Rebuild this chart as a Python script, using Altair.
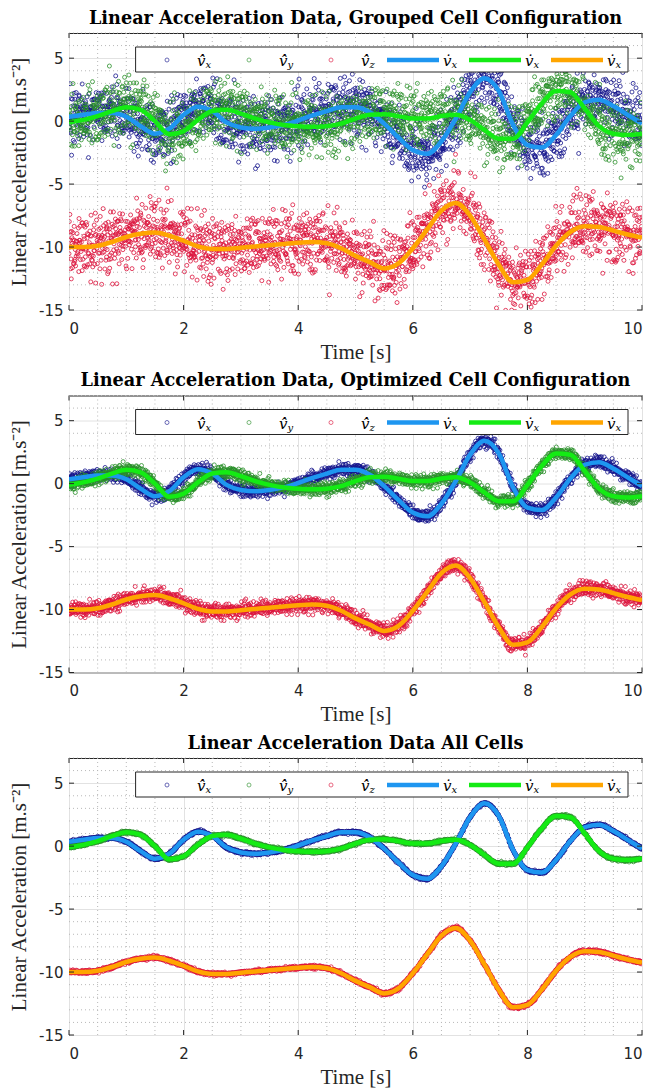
import numpy as np
import pandas as pd
import altair as alt

# ---------------- data ----------------
T_KNOTS = [i * 0.25 for i in range(41)]
VX = [0.35, 0.5, 0.65, 0.65, 0.35, -0.4, -1.0, -0.6, 0.5, 1.15,
      0.8, -0.1, -0.5, -0.6, -0.5, -0.3, 0.05, 0.45, 0.8, 1.1,
      1.1, 0.7, -0.2, -1.3, -2.3, -2.6, -1.6, 0.2, 2.3, 3.4,
      2.4, -0.3, -1.9, -2.1, -1.1, 0.4, 1.5, 1.7, 1.2, 0.5, -0.2]
VY = [-0.1, 0.1, 0.4, 0.8, 1.1, 0.9, 0.0, -1.05, -0.8, 0.1,
      0.8, 0.9, 0.6, 0.2, -0.1, -0.3, -0.4, -0.45, -0.4, -0.2,
      0.2, 0.5, 0.55, 0.4, 0.2, 0.2, 0.4, 0.5, 0.1, -0.7,
      -1.4, -1.4, -0.1, 1.4, 2.4, 2.3, 1.0, -0.4, -1.0, -1.1, -1.0]
VZ = [-10.0, -10.0, -9.9, -9.6, -9.2, -8.95, -8.85, -9.1, -9.5, -9.95,
      -10.15, -10.15, -10.05, -9.95, -9.85, -9.75, -9.65, -9.6, -9.7, -10.1,
      -10.7, -11.2, -11.7, -11.3, -10.1, -8.6, -7.1, -6.5, -7.5, -9.4,
      -11.4, -12.8, -12.6, -11.4, -9.9, -8.8, -8.35, -8.4, -8.7, -9.0, -9.25]

# hand-typed residual tables (unit spread) for the noisy measurements
NOISE_A = [0.31, -1.22, 0.85, -0.47, 1.63, -0.08, -0.92, 0.54, 2.11, -1.58,
           0.12, -0.66, 1.04, -0.29, 0.73, -2.05, 0.41, -0.15, 1.37, -0.83,
           0.02, 0.96, -1.41, 0.27, -0.58, 1.82, -0.36, 0.64, -1.09, 0.19,
           -2.37, 0.88, -0.21, 0.47, -0.74, 1.21, -0.05, 0.59, -1.67, 0.33,
           1.49, -0.97, 0.08, -0.42, 0.79, -1.31, 2.46, -0.63, 0.15, -0.11,
           1.12, -0.88, 0.38]
NOISE_B = [-0.44, 0.93, -1.17, 0.21, 0.68, -0.03, -1.85, 1.29, -0.52, 0.37,
           0.06, -0.79, 1.58, -0.24, 0.81, -1.36, 0.45, 2.02, -0.69, -0.13,
           0.57, -1.02, 0.26, 1.11, -0.38, -0.61, 0.99, -2.21, 0.14, 0.72,
           -0.19, 1.44, -0.86, 0.35, -0.07, -1.26, 0.63, 1.76, -0.49, 0.09,
           -0.95, 0.52, 0.28, -1.53, 1.05, -0.32, 0.77, -0.16, -0.71, 1.91,
           -1.12, 0.43, 0.01, -0.57, 0.86, -0.27, 1.33, -1.74, 0.48]

PANEL_TITLES = ["Linear Acceleration Data, Grouped Cell Configuration",
                "Linear Acceleration Data, Optimized Cell Configuration",
                "Linear Acceleration Data All Cells"]
NOISE_SD = [[1.15, 1.15, 1.25], [0.25, 0.25, 0.3], [0.06, 0.06, 0.07]]
SAMPLE_STEP = 0.005

X_TICKS = [0, 2, 4, 6, 8, 10]
Y_TICKS = [-15, -10, -5, 0, 5]
X_MINOR = [0.5 * i for i in range(21) if i % 4 != 0]
Y_MINOR = [v for v in range(-15, 8) if v % 5 != 0]

SCATTER_COLORS = ["#14148c", "#2a8f2a", "#dc143c"]
LINE_COLORS = ["#1e96f0", "#14eb14", "#ffa500"]
LEGEND_MAIN = ["v\u0307\u0302", "v\u0307\u0302", "v\u0307\u0302", "v\u0307", "v\u0307", "v\u0307"]
LEGEND_SUBS = ["x", "y", "z", "x", "x", "x"]

# ---------------- layout constants ----------------
W, H = 573, 277
XMAX, YMIN, YMAX = 10, -15, 7
XS = W / XMAX
YS = H / (YMAX - YMIN)
SERIF = "Liberation Serif"
SANS = "DejaVu Sans"
INK = "#262626"


def mono(xk, yk, xq):
    xk = np.asarray(xk, float)
    yk = np.asarray(yk, float)
    h = np.diff(xk)
    s = np.diff(yk) / h
    n = len(xk)
    m = np.zeros(n)
    for i in range(1, n - 1):
        p = (s[i - 1] * h[i] + s[i] * h[i - 1]) / (h[i - 1] + h[i])
        m[i] = (np.sign(s[i - 1]) + np.sign(s[i])) * min(abs(s[i - 1]), abs(s[i]), 0.5 * abs(p))
    m[0] = (3 * s[0] - m[1]) / 2
    m[-1] = (3 * s[-1] - m[-2]) / 2
    idx = np.clip(np.searchsorted(xk, xq, side="right") - 1, 0, n - 2)
    hh = h[idx]
    u = (xq - xk[idx]) / hh
    h00 = 2 * u**3 - 3 * u**2 + 1
    h10 = u**3 - 2 * u**2 + u
    h01 = -2 * u**3 + 3 * u**2
    h11 = u**3 - u**2
    return h00 * yk[idx] + h10 * hh * m[idx] + h01 * yk[idx + 1] + h11 * hh * m[idx + 1]


t_samp = np.round(np.arange(0, XMAX + 1e-9, SAMPLE_STEP), 4)
A = np.array(NOISE_A)
B = np.array(NOISE_B)
ii = np.arange(len(t_samp))

xs = alt.Scale(domain=[0, XMAX], nice=False, zero=False)
ys = alt.Scale(domain=[YMIN, YMAX], nice=False, zero=False)
X = alt.X("t:Q", scale=xs, axis=alt.Axis(values=X_TICKS, title="Time [s]", grid=True))
Y = alt.Y("v:Q", scale=ys, axis=alt.Axis(values=Y_TICKS, title="Linear Acceleration [m.s⁻²]", grid=True,
                                          labelExpr="replace(datum.label, '\u2212', '-')"))


def to_t(px):
    return px / XS


def to_v(py):
    return YMAX - py / YS


def panel(p):
    frames = []
    for k, curve in enumerate([VX, VY, VZ]):
        base = mono(T_KNOTS, curve, t_samp)
        res = (A[(ii + 11 * k + 5 * p) % len(A)] + B[(3 * ii + 7 * k + 13 * p) % len(B)]) / np.sqrt(2)
        frames.append(pd.DataFrame({"t": t_samp, "v": base + NOISE_SD[p][k] * res,
                                    "col": SCATTER_COLORS[k]}))
    sc = pd.concat(frames, ignore_index=True)

    minor_x = alt.Chart(pd.DataFrame({"t": X_MINOR})).mark_rule(
        color="#b8b8b8", strokeDash=[1, 3], strokeWidth=1).encode(x=X, y=alt.value(0), y2=alt.value(H))
    minor_y = alt.Chart(pd.DataFrame({"v": Y_MINOR})).mark_rule(
        color="#b8b8b8", strokeDash=[1, 3], strokeWidth=1).encode(y=Y, x=alt.value(0), x2=alt.value(W))

    scatter = alt.Chart(sc).mark_point(shape="circle", filled=False, size=16, strokeWidth=0.8,
                                       opacity=1, clip=True).encode(
        x=X, y=Y, color=alt.Color("col:N", scale=None))

    lines = []
    for curve, col in zip([VX, VY, VZ], LINE_COLORS):
        lines.append(alt.Chart(pd.DataFrame({"t": T_KNOTS, "v": curve})).mark_line(
            interpolate="monotone", strokeWidth=4.5, color=col, clip=True).encode(x=X, y=Y))

    # inward ticks on all four sides
    xt = pd.DataFrame({"t": X_TICKS})
    yt = pd.DataFrame({"v": Y_TICKS})
    ticks = [
        alt.Chart(xt).mark_rule(color=INK).encode(x=X, y=alt.value(H), y2=alt.value(H - 5)),
        alt.Chart(xt).mark_rule(color=INK).encode(x=X, y=alt.value(0), y2=alt.value(5)),
        alt.Chart(yt).mark_rule(color=INK).encode(y=Y, x=alt.value(0), x2=alt.value(5)),
        alt.Chart(yt).mark_rule(color=INK).encode(y=Y, x=alt.value(W), x2=alt.value(W - 5)),
    ]

    # legend drawn inside the axes
    box = alt.Chart(pd.DataFrame({"a": [0]})).mark_rect(fill="white", stroke=INK, strokeWidth=1).encode(
        x=alt.value(66.6), x2=alt.value(559), y=alt.value(14), y2=alt.value(39))
    cx = [98 + 82 * i for i in range(6)]
    leg_pts = pd.DataFrame({"t": [to_t(c) for c in cx[:3]], "v": [to_v(27)] * 3, "col": SCATTER_COLORS})
    leg_circ = alt.Chart(leg_pts).mark_point(shape="circle", filled=False, size=16, strokeWidth=0.9).encode(
        x=X, y=Y, color=alt.Color("col:N", scale=None))
    leg_ln = pd.DataFrame({"t": [to_t(c - 26) for c in cx[3:]], "t2": [to_t(c + 26) for c in cx[3:]],
                           "v": [to_v(27)] * 3, "col": LINE_COLORS})
    leg_lines = alt.Chart(leg_ln).mark_rule(strokeWidth=4.5).encode(
        x=X, x2="t2:Q", y=Y, color=alt.Color("col:N", scale=None))
    lab_v = pd.DataFrame({"t": [to_t(c + 30) for c in cx], "v": [to_v(33)] * 6, "s": LEGEND_MAIN})
    lab_sub = pd.DataFrame({"t": [to_t(c + 38.5) for c in cx], "v": [to_v(35)] * 6, "s": LEGEND_SUBS})
    labels = [
        alt.Chart(lab_v).mark_text(font="DejaVu Serif", fontStyle="italic", fontSize=15, color="black",
                                   align="left", baseline="alphabetic").encode(x=X, y=Y, text="s:N"),
        alt.Chart(lab_sub).mark_text(font="DejaVu Serif", fontStyle="italic", fontSize=10, color="black",
                                     align="left", baseline="alphabetic").encode(x=X, y=Y, text="s:N"),
    ]

    return alt.layer(minor_x, minor_y, scatter, *lines, *ticks, box, leg_circ, leg_lines, *labels).properties(
        width=W, height=H,
        title=alt.TitleParams(PANEL_TITLES[p], font="DejaVu Serif", fontSize=17.7, fontWeight="bold",
                              color="black", anchor="middle", frame="group", offset=5))


chart = alt.vconcat(panel(0), panel(1), panel(2), spacing=8.5).properties(
    padding={"left": 8, "top": 9, "right": 4, "bottom": 2}
).configure_view(stroke=INK, strokeWidth=1).configure_axis(
    domain=False, ticks=False, gridColor="#e2e2e2", gridWidth=1,
    labelFont=SANS, labelFontSize=15, labelColor=INK,
    titleFont=SERIF, titleFontSize=21, titleFontWeight="normal", titleColor=INK,
).configure_axisX(titlePadding=5, labelPadding=11).configure_axisY(titlePadding=9, labelPadding=6)

chart.save("out.html", embed_options={"renderer": "svg", "actions": False})
